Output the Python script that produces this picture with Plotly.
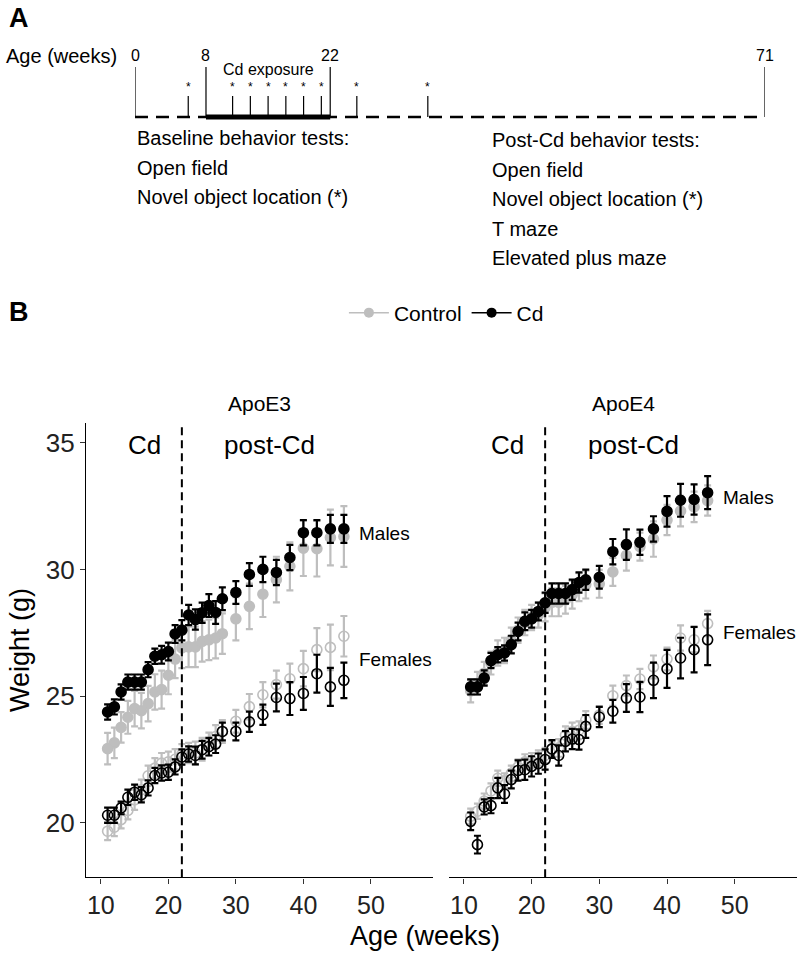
import plotly.graph_objects as go

# ---------------- data ----------------
weeks = [11, 12, 13, 14, 15, 16, 17, 18, 19, 20, 21, 22, 23, 24, 25, 26, 27, 28,
         30, 32, 34, 36, 38, 40, 42, 44, 46]

# ApoE3
e3_cd_m = [24.37, 24.57, 25.16, 25.55, 25.55, 25.55, 26.04, 26.57, 26.63, 26.76, 27.45, 27.6,
           28.2, 28.02, 28.29, 28.57, 28.3, 28.84, 29.09, 29.8, 30.0, 29.88, 30.47, 31.45, 31.45, 31.6, 31.6]
e3_cd_m_se = [0.3, 0.3, 0.3, 0.3, 0.3, 0.3, 0.3, 0.3, 0.35, 0.35, 0.35, 0.4, 0.4, 0.4, 0.4, 0.45,
              0.45, 0.45, 0.45, 0.45, 0.5, 0.5, 0.5, 0.5, 0.5, 0.55, 0.55]
e3_ct_m = [22.92, 23.15, 23.76, 24.16, 24.5, 24.42, 24.7, 25.16, 25.25, 25.82, 26.46, 26.9,
           26.94, 26.94, 27.16, 27.22, 27.29, 27.46, 28.05, 28.54, 29.02, 29.6, 30.12, 30.84, 30.82, 31.26, 31.3]
e3_ct_m_se = [0.62, 0.6, 0.6, 0.65, 0.7, 0.7, 0.7, 0.7, 0.75, 0.75, 0.75, 0.8, 0.8, 0.8, 0.8, 0.8,
              0.8, 0.8, 0.85, 0.9, 0.9, 0.9, 0.95, 1.1, 1.1, 1.1, 1.2]
e3_cd_f = [20.29, 20.29, 20.58, 21.0, 21.2, 21.1, 21.37, 21.86, 21.96, 21.99, 22.2, 22.59,
           22.71, 22.65, 22.88, 23.0, 23.1, 23.6, 23.6, 23.98, 24.26, 24.94, 24.9, 25.1, 25.88, 25.36, 25.62]
e3_cd_f_se = [0.3, 0.3, 0.25, 0.3, 0.3, 0.3, 0.3, 0.3, 0.3, 0.3, 0.3, 0.3, 0.3, 0.35, 0.35, 0.35,
              0.35, 0.35, 0.35, 0.4, 0.4, 0.55, 0.65, 0.65, 0.75, 0.75, 0.7]
e3_ct_f = [19.66, 19.82, 20.12, 20.48, 20.9, 21.3, 21.85, 22.15, 22.35, 22.4, 22.5, 22.7,
           22.75, 22.75, 22.9, 23.1, 23.4, 23.6, 24.0, 24.58, 25.05, 25.45, 25.68, 26.08, 26.83, 26.92, 27.36]
e3_ct_f_se = [0.35, 0.35, 0.35, 0.35, 0.4, 0.4, 0.4, 0.4, 0.4, 0.4, 0.4, 0.4, 0.4, 0.45, 0.45, 0.45,
              0.45, 0.45, 0.45, 0.5, 0.5, 0.55, 0.6, 0.7, 0.85, 0.9, 0.8]

# ApoE4
e4_cd_m = [25.36, 25.36, 25.71, 26.4, 26.63, 26.7, 27.03, 27.55, 27.95, 28.05, 28.34, 28.68,
           29.05, 29.05, 29.05, 29.2, 29.48, 29.59, 29.69, 30.7, 30.98, 31.07, 31.6, 32.29, 32.73, 32.76, 33.03]
e4_cd_m_se = [0.3, 0.3, 0.3, 0.3, 0.3, 0.3, 0.35, 0.35, 0.35, 0.35, 0.35, 0.4, 0.4, 0.4, 0.4, 0.4,
              0.4, 0.4, 0.45, 0.5, 0.6, 0.5, 0.5, 0.6, 0.65, 0.6, 0.65]
e4_ct_m = [25.2, 25.5, 25.9, 26.3, 26.7, 26.8, 27.2, 27.6, 27.9, 28.1, 28.2, 28.5,
           28.7, 28.7, 28.8, 29.0, 29.3, 29.4, 29.43, 29.9, 30.55, 30.9, 31.2, 31.95, 32.3, 32.47, 32.72]
e4_ct_m_se = [0.45, 0.45, 0.45, 0.45, 0.5, 0.5, 0.5, 0.5, 0.5, 0.5, 0.5, 0.55, 0.55, 0.55, 0.55, 0.55,
              0.55, 0.55, 0.55, 0.55, 0.6, 0.55, 0.7, 0.6, 0.6, 0.6, 0.6]
e4_cd_f = [20.05, 19.13, 20.62, 20.67, 21.37, 21.13, 21.7, 22.06, 22.09, 22.22, 22.33, 22.49,
           22.91, 22.65, 23.21, 23.3, 23.28, 23.8, 24.17, 24.4, 24.92, 24.96, 25.62, 26.07, 26.5, 26.83, 27.22]
e4_cd_f_se = [0.35, 0.35, 0.3, 0.3, 0.4, 0.35, 0.35, 0.4, 0.4, 0.4, 0.4, 0.4, 0.35, 0.4, 0.4, 0.4,
              0.4, 0.45, 0.4, 0.45, 0.55, 0.6, 0.7, 0.75, 0.8, 0.9, 1.0]
e4_ct_f = [20.25, 20.45, 20.85, 21.25, 21.75, 21.65, 21.95, 22.2, 22.4, 22.45, 22.55, 22.65,
           22.9, 22.95, 23.45, 23.6, 23.65, 24.05, 24.25, 25.01, 25.41, 25.67, 26.15, 26.46, 27.29, 27.22, 27.86]
e4_ct_f_se = [0.3, 0.3, 0.3, 0.3, 0.3, 0.3, 0.3, 0.3, 0.3, 0.3, 0.3, 0.3, 0.3, 0.35, 0.35, 0.35,
              0.35, 0.35, 0.35, 0.4, 0.4, 0.4, 0.45, 0.45, 0.5, 0.5, 0.5]

# Panel A timeline
timeline_marks = [0, 8, 22, 71]
exposure = [8, 22]
nol_weeks = [6, 11, 13, 15, 17, 19, 21, 25, 33]
baseline_tests = ["Baseline behavior tests:", "Open field", "Novel object location (*)"]
post_tests = ["Post-Cd behavior tests:", "Open field", "Novel object location (*)", "T maze",
              "Elevated plus maze"]

x_ticks = [10, 20, 30, 40, 50]
y_ticks = [20, 25, 30, 35]
cd_end = 22

# ---------------- layout helpers ----------------
W, H = 800, 955
FONT = "Liberation Sans, Arial, sans-serif"
GREY = "#bebebe"
BLACK = "#000000"


def px(v):
    return v / W


def py(v):
    return 1 - v / H


fig = go.Figure()

panels = [
    ("x", "y", [(e3_ct_f, e3_ct_f_se, GREY, "circle-open"), (e3_ct_m, e3_ct_m_se, GREY, "circle"),
                (e3_cd_f, e3_cd_f_se, BLACK, "circle-open"), (e3_cd_m, e3_cd_m_se, BLACK, "circle")]),
    ("x2", "y2", [(e4_ct_f, e4_ct_f_se, GREY, "circle-open"), (e4_ct_m, e4_ct_m_se, GREY, "circle"),
                  (e4_cd_f, e4_cd_f_se, BLACK, "circle-open"), (e4_cd_m, e4_cd_m_se, BLACK, "circle")]),
]
for xa, ya, series in panels:
    for vals, se, col, sym in series:
        fig.add_trace(go.Scatter(
            x=weeks, y=vals, xaxis=xa, yaxis=ya, mode="markers",
            marker=dict(symbol=sym, size=10, color=col, line=dict(width=1.6, color=col)),
            error_y=dict(type="data", array=se, color=col, thickness=2.2, width=3.5),
            showlegend=False, hoverinfo="skip"))

# legend entries
for name, col in [("Control", GREY), ("Cd", BLACK)]:
    fig.add_trace(go.Scatter(x=[None], y=[None], mode="lines+markers", name=name,
                             marker=dict(size=10, color=col), line=dict(color=col, width=1.5),
                             xaxis="x", yaxis="y"))

# dummy trace for timeline axis
fig.add_trace(go.Scatter(x=[0, 71], y=[0, 1], xaxis="x3", yaxis="y3", mode="markers",
                         marker=dict(opacity=0), showlegend=False, hoverinfo="skip"))

YR = [17.84, 35.77]
XR = [7.8, 59.2]
ydom = [py(877.3), py(423.3)]
axis_common = dict(range=XR, tickvals=x_ticks, ticks="outside", ticklen=5, tickwidth=1.2,
                   tickcolor="#333", showline=True, linecolor="black", linewidth=1.4,
                   showgrid=False, zeroline=False,
                   tickfont=dict(family=FONT, size=25, color="#222"))
fig.update_layout(
    width=W, height=H, margin=dict(l=0, r=0, t=0, b=0),
    paper_bgcolor="white", plot_bgcolor="white",
    font=dict(family=FONT, color="black"),
    xaxis=dict(domain=[px(86), px(433)], anchor="y", **axis_common),
    xaxis2=dict(domain=[px(449), px(797)], anchor="y2", **axis_common),
    yaxis=dict(domain=ydom, range=YR, tickvals=y_ticks, ticks="outside", ticklen=5, tickwidth=1.2,
               tickcolor="#333", showline=True, linecolor="black", linewidth=1.4, showgrid=False,
               zeroline=False, anchor="x", tickfont=dict(family=FONT, size=26, color="#222")),
    yaxis2=dict(domain=ydom, range=YR, showline=False, showticklabels=False, ticks="",
                showgrid=False, zeroline=False, anchor="x2"),
    xaxis3=dict(domain=[px(135), px(765)], range=[0, 71], anchor="y3", showline=False,
                showticklabels=False, ticks="", showgrid=False, zeroline=False),
    yaxis3=dict(domain=[py(130), py(40)], range=[0, 1], anchor="x3", showline=False,
                showticklabels=False, ticks="", showgrid=False, zeroline=False),
    legend=dict(orientation="h", x=0.558, y=py(313), xanchor="center", yanchor="middle",
                font=dict(family=FONT, size=21), itemwidth=40),
)

shapes = []
# dashed Cd-end lines in panel B
for xa in ["x", "x2"]:
    shapes.append(dict(type="line", xref=xa, yref="paper", x0=cd_end, x1=cd_end,
                       y0=ydom[0], y1=ydom[1], line=dict(color="black", width=2, dash="8px,5px")))
# timeline
shapes.append(dict(type="line", xref="x3", yref="paper", x0=timeline_marks[0], x1=timeline_marks[-1],
                   y0=py(117), y1=py(117), line=dict(color="black", width=2.5, dash="13px,8px")))
shapes.append(dict(type="line", xref="x3", yref="paper", x0=exposure[0], x1=exposure[1],
                   y0=py(117), y1=py(117), line=dict(color="black", width=5)))
for t in timeline_marks:
    shapes.append(dict(type="line", xref="x3", yref="paper", x0=t, x1=t, y0=py(117), y1=py(67),
                       line=dict(color="black", width=1.2)))
for t in nol_weeks:
    shapes.append(dict(type="line", xref="x3", yref="paper", x0=t, x1=t, y0=py(117), y1=py(96),
                       line=dict(color="black", width=1.2)))
fig.update_layout(shapes=shapes)

ann = []


def A(**k):
    d = dict(showarrow=False, font=dict(family=FONT, size=k.pop("size", 16), color="black"))
    d.update(k)
    ann.append(d)


A(text="<b>A</b>", xref="paper", yref="paper", x=px(7), y=py(18), xanchor="left", yanchor="middle", size=27)
A(text="<b>B</b>", xref="paper", yref="paper", x=px(7), y=py(312), xanchor="left", yanchor="middle", size=27)
A(text="Age (weeks)", xref="paper", yref="paper", x=px(4), y=py(56), xanchor="left", yanchor="middle", size=20)
for t in timeline_marks:
    A(text=str(t), xref="x3", yref="paper", x=t, y=py(55), xanchor="center", yanchor="middle", size=16)
for t in nol_weeks:
    A(text="*", xref="x3", yref="paper", x=t, y=py(87), xanchor="center", yanchor="middle", size=12)
A(text="Cd exposure", xref="x3", yref="paper", x=15, y=py(70), xanchor="center", yanchor="middle", size=16)
for i, s in enumerate(baseline_tests):
    A(text=s, xref="x3", yref="paper", x=0, y=py(138 + 29.5 * i), xanchor="left", yanchor="middle", size=20)
for i, s in enumerate(post_tests):
    A(text=s, xref="x3", yref="paper", x=40, y=py(140 + 29.5 * i), xanchor="left", yanchor="middle", size=20)

# panel B text
for xa, ya, name, mY, fY in [("x", "y", "ApoE3", 31.4, 26.45), ("x2", "y2", "ApoE4", 32.85, 27.5)]:
    A(text=name, xref=xa + " domain", yref="paper", x=0.5, y=py(403), xanchor="center", yanchor="middle", size=21)
    A(text="Cd", xref=xa, yref=ya, x=16.5, y=34.9, xanchor="center", yanchor="middle", size=26)
    A(text="post-Cd", xref=xa, yref=ya, x=35, y=34.9, xanchor="center", yanchor="middle", size=26)
    A(text="Males", xref=xa, yref=ya, x=48, y=mY, xanchor="left", yanchor="middle", size=19)
    A(text="Females", xref=xa, yref=ya, x=48, y=fY, xanchor="left", yanchor="middle", size=19)

A(text="Weight (g)", xref="paper", yref="paper", x=px(20), y=py(650), xanchor="center", yanchor="middle",
  size=27, textangle=-90)
A(text="Age (weeks)", xref="paper", yref="paper", x=px(425), y=py(936), xanchor="center", yanchor="middle", size=27)

fig.update_layout(annotations=ann)
fig.write_html("out.html", config={"displayModeBar": False},
               post_script="document.body.style.margin='0px';")
